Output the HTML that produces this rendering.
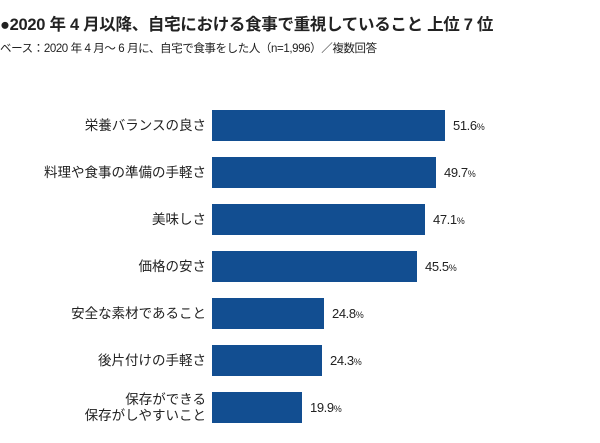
<!DOCTYPE html>
<html><head><meta charset="utf-8"><style>
body{margin:0;width:600px;height:443px;background:#fff;font-family:"Liberation Sans","Noto Sans CJK JP",sans-serif;color:#222;position:relative;overflow:hidden}
.t{position:absolute;left:0;top:11px;font-size:16.5px;font-weight:bold;white-space:nowrap;letter-spacing:-0.3px}
.s{position:absolute;left:0;top:40px;font-size:11.5px;white-space:nowrap;letter-spacing:-0.4px}
.b{position:absolute;left:212px;height:31px;background:#124e91}
.l{position:absolute;right:394px;font-size:13.5px;text-align:right;white-space:nowrap;line-height:16px}
.v{position:absolute;font-size:13px;letter-spacing:-0.4px}
.v small{font-size:9px}
</style></head><body>
<div class="t">●2020 年 4 月以降、自宅における食事で重視していること 上位 7 位</div>
<div class="s">ベース：2020 年 4 月～ 6 月に、自宅で食事をした人（n=1,996）／複数回答</div>

<div class="b" style="top:110px;width:233px"></div><div class="l" style="top:118px">栄養バランスの良さ</div><div class="v" style="left:453px;top:118px">51.6<small>%</small></div>
<div class="b" style="top:157px;width:224px"></div><div class="l" style="top:165px">料理や食事の準備の手軽さ</div><div class="v" style="left:444px;top:165px">49.7<small>%</small></div>
<div class="b" style="top:204px;width:213px"></div><div class="l" style="top:212px">美味しさ</div><div class="v" style="left:433px;top:212px">47.1<small>%</small></div>
<div class="b" style="top:251px;width:205px"></div><div class="l" style="top:259px">価格の安さ</div><div class="v" style="left:425px;top:259px">45.5<small>%</small></div>
<div class="b" style="top:298px;width:112px"></div><div class="l" style="top:306px">安全な素材であること</div><div class="v" style="left:332px;top:306px">24.8<small>%</small></div>
<div class="b" style="top:345px;width:110px"></div><div class="l" style="top:353px">後片付けの手軽さ</div><div class="v" style="left:330px;top:353px">24.3<small>%</small></div>
<div class="b" style="top:392px;width:90px"></div><div class="l" style="top:392px">保存ができる<br>保存がしやすいこと</div><div class="v" style="left:310px;top:400px">19.9<small>%</small></div>
</body></html>
